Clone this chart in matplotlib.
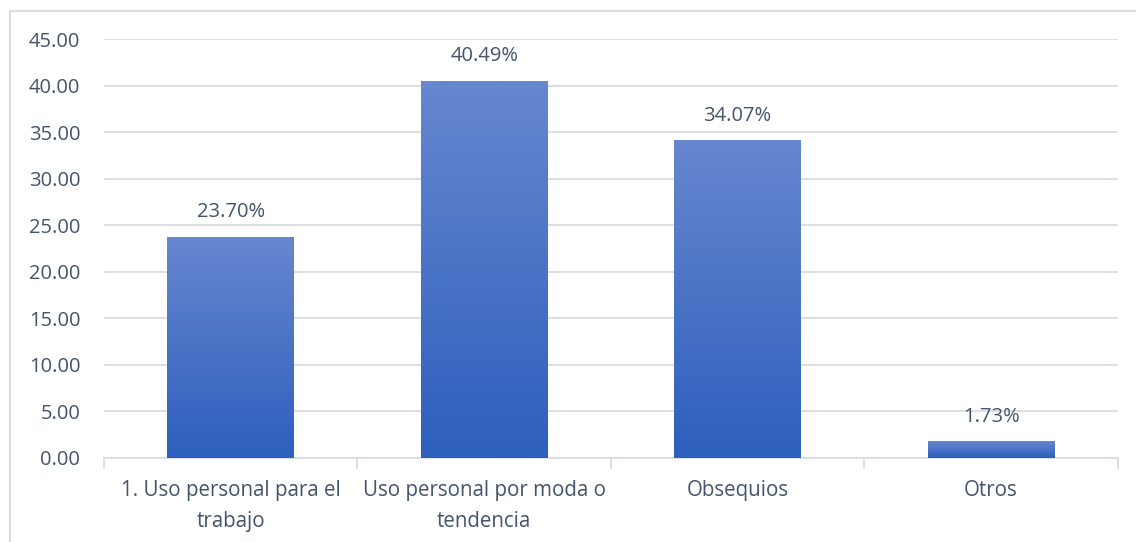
import matplotlib
matplotlib.use('agg')
from matplotlib import pyplot as plt
from matplotlib.patches import Rectangle
from matplotlib.colors import LinearSegmentedColormap
import numpy as np

# data
categories = ['1. Uso personal para el\ntrabajo', 'Uso personal por moda o\ntendencia', 'Obsequios', 'Otros']
values = [23.70, 40.49, 34.07, 1.73]
labels = ['23.70%', '40.49%', '34.07%', '1.73%']
yticks = [0, 5, 10, 15, 20, 25, 30, 35, 40, 45]

text_color = '#44546a'
grid_color = '#d9dde3'
plt.rcParams['font.family'] = ['Open Sans', 'DejaVu Sans']

fig = plt.figure(figsize=(11.36, 5.42), dpi=100)
ax = fig.add_axes([0.0915, 0.155, 0.8925, 0.773])

# light frame round the chart area
fig.patches.append(Rectangle((10 / 1136, -0.1), 1.2, 1.1 - 11 / 542,
                             transform=fig.transFigure, fill=False,
                             edgecolor='#d9dde5', linewidth=1.5))

x = np.arange(len(categories))
width = 0.5
grad = LinearSegmentedColormap.from_list('bars', ['#2d5fbd', '#6787cf'])
gimg = np.linspace(0, 1, 256).reshape(-1, 1)

bars = ax.bar(x, values, width, color='none', zorder=3)
for b, v, lab in zip(bars, values, labels):
    x0 = b.get_x()
    ax.imshow(gimg, cmap=grad, origin='lower', aspect='auto',
              extent=(x0, x0 + b.get_width(), 0, v), zorder=3)
    ax.text(b.get_x() + b.get_width() / 2, v + 1.6, lab, ha='center', va='bottom',
            fontsize=14.5, color=text_color)

ax.set_xlim(-0.5, len(categories) - 0.5)
ax.set_ylim(0, 45)
ax.set_yticks(yticks)
ax.set_yticklabels(['%.2f' % t for t in yticks])
ax.set_xticks(x)
ax.set_xticklabels(categories, multialignment='center', linespacing=1.6)
ax.set_xticks(np.arange(-0.5, len(categories)), minor=True)

ax.grid(axis='y', color=grid_color, linewidth=1.3, zorder=0)
ax.set_axisbelow(True)
for s in ['top', 'right', 'left']:
    ax.spines[s].set_visible(False)
ax.spines['bottom'].set_color(grid_color)
ax.spines['bottom'].set_linewidth(1.3)

ax.tick_params(axis='y', length=0, pad=17, labelsize=14.5, labelcolor=text_color)
ax.tick_params(axis='x', which='major', length=0, pad=16, labelsize=14.8, labelcolor=text_color)
ax.tick_params(axis='x', which='minor', length=8, width=1.3, color=grid_color)

plt.savefig('out.png')
plt.close()
